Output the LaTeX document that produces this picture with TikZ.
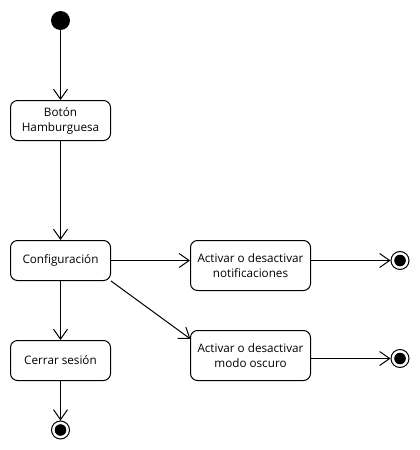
\documentclass[tikz,border=0pt]{standalone}
\usepackage{fontspec}
\setmainfont{Open Sans}
\usetikzlibrary{arrows.meta,calc}
\tikzset{
  act/.style={draw=black, line width=1pt, rounded corners=7pt, align=center,
    font=\fontsize{11.7}{15}\selectfont, inner sep=0pt},
  startdot/.style={circle, fill=black, minimum size=19pt, inner sep=0pt},
  enddot/.style={circle, draw=black, line width=1pt, fill=white, minimum size=18pt, inner sep=0pt,
    path picture={\fill[black] (path picture bounding box.center) circle (5.8pt);}},
  flow/.style={draw=black, line width=1pt, -{Straight Barb[length=10pt,width=14pt,line width=1pt]}}
}
\begin{document}
\begin{tikzpicture}[x=1pt,y=-1pt]
\useasboundingbox (0,0) rectangle (420,450);
\node[startdot] (s) at (60.5,20.5) {};
\node[act, minimum width=100pt, minimum height=40pt] (b) at (60.5,120.5) {Botón\\Hamburguesa};
\node[act, minimum width=100pt, minimum height=40pt] (c) at (60.5,260.5) {Configuración};
\node[act, minimum width=100pt, minimum height=40pt] (x) at (60.5,360.5) {Cerrar sesión};
\node[act, minimum width=120pt, minimum height=50pt] (n) at (250.5,265.5) {Activar o desactivar\\notificaciones};
\node[act, minimum width=120pt, minimum height=50pt] (m) at (250.5,355.5) {Activar o desactivar\\modo oscuro};
\node[enddot] (e0) at (60.5,430) {};
\node[enddot] (e1) at (400,260.5) {};
\node[enddot] (e2) at (400,358.5) {};
\coordinate (min) at (190.5,339);
\draw[flow] (s) -- (b);
\draw[flow] (b) -- (c);
\draw[flow] (c) -- (x);
\draw[flow] (x) -- (e0);
\draw[flow] (c.east) -- (c.east -| n.west);
\draw[flow] (c.south east) -- (min);
\draw[flow] (n.east |- e1) -- (e1);
\draw[flow] (m.east |- e2) -- (e2);
\end{tikzpicture}
\end{document}
